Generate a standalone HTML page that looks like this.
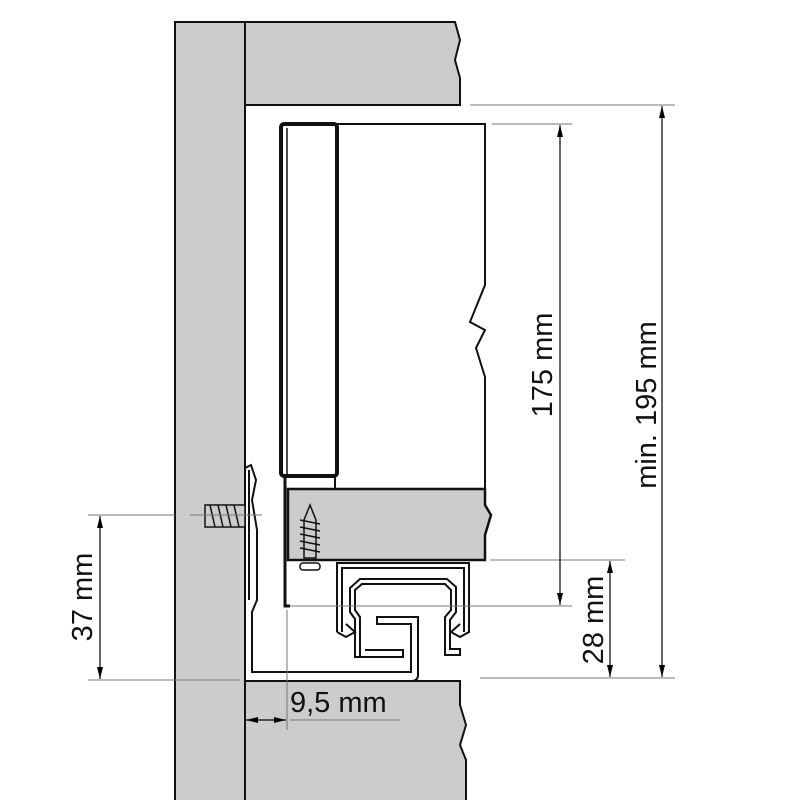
<!DOCTYPE html>
<html><head><style>body{margin:0;background:#fff}svg{display:block}</style></head><body>
<svg width="800" height="800" viewBox="0 0 800 800" xmlns="http://www.w3.org/2000/svg">
<defs>
<marker id="a" markerWidth="12" markerHeight="8" refX="12" refY="4" orient="auto-start-reverse" markerUnits="userSpaceOnUse"><path d="M0,1 L12,4 L0,7 Z" fill="#000"/></marker>
</defs>
<rect x="175" y="22" width="70" height="790" fill="#ccc" stroke="#111" stroke-width="2"/>
<path d="M245,22 L455,22 L460,40 L455,60 L460,78 L460,105 L245,105 Z" fill="#ccc" stroke="#111" stroke-width="2"/>
<path d="M245,681 L460,681 L460,705 L466,725 L460,745 L466,760 L466,810 L245,810 Z" fill="#ccc" stroke="#111" stroke-width="2"/>
<path d="M337,124 L485,124 L485,285 L470,322 L485,330 L476,348 L485,377 L485,490" fill="#fff" stroke="#111" stroke-width="2"/>
<rect x="281" y="124" width="56" height="352" rx="3" fill="#fff" stroke="#111" stroke-width="4"/>
<line x1="287" y1="128" x2="287" y2="475" stroke="#111" stroke-width="1.5"/>
<path d="M288,489 L485,489 L485,505 L491,515 L485,535 L485,560 L288,560 Z" fill="#ccc" stroke="#111" stroke-width="2.5"/>
<path d="M285,476 L335,476 L335,489" fill="none" stroke="#111" stroke-width="2"/>
<path d="M285,476 L285,606 L290,606" fill="none" stroke="#111" stroke-width="3"/>
<g stroke="#111" stroke-width="1.5" fill="none">
<path d="M310,505 L304,520 L304,558 L316,558 L316,520 Z" fill="#ccc"/>
<path d="M300,520 L320,524 M300,527 L320,531 M300,534 L320,538 M300,541 L320,545 M300,548 L320,552"/>
<rect x="300" y="563" width="20" height="7" rx="3" fill="#fff"/>
</g>
<!-- wall bracket -->
<g fill="none" stroke="#111" stroke-width="2">
<path d="M245,468 L251,465 L256,480 L252,500 L257,530 L257,600 L252,612 L252,672 L411,672 L411,624 L377,624 L377,617 L418,617 L418,675 Q418,681 411,681 L245,681 Z"/>
<path d="M249,470 L249,600"/>
</g>
<g stroke="#111" stroke-width="1.5" fill="#ccc">
<rect x="205" y="505" width="40" height="22"/>
<path d="M210,505 L215,527 M218,505 L223,527 M226,505 L231,527 M234,505 L239,527" fill="none"/>
</g>
<!-- runner profile -->
<g fill="none" stroke="#111" stroke-width="2">
<path d="M337,632 L337,563 L469,563 L469,632 L460,637 L451,632 L460,624"/>
<path d="M342,632 L342,568 L464,568 L464,632"/>
<path d="M337,632 L346,637 L355,632 L346,624"/>
<path d="M360,657 L360,617 L355,610 L355,590 L362,584 L445,584 L451,590 L451,610 L445,617 L445,655 L460,655 L460,649 L450,649 L450,620 L456,612 L456,587 L447,579 L360,579 L350,588 L350,612 L355,619 L355,657 Z"/>
<path d="M360,657 L403,657 L403,650 L365,650"/>
</g>
<g stroke="#777" stroke-width="1">
<line x1="470" y1="105" x2="675" y2="105"/>
<line x1="492" y1="124" x2="572" y2="124"/>
<line x1="490" y1="560" x2="625" y2="560"/>
<line x1="290" y1="606" x2="572" y2="606"/>
<line x1="480" y1="678" x2="675" y2="678"/>
<line x1="88" y1="515" x2="175" y2="515"/>
<line x1="190" y1="515" x2="262" y2="515"/>
<line x1="88" y1="680" x2="240" y2="680"/>
<line x1="287" y1="610" x2="287" y2="730"/>
<line x1="290" y1="720" x2="400" y2="720"/>
</g>
<g stroke="#000" stroke-width="1.2">
<line x1="662" y1="106" x2="662" y2="677" marker-start="url(#a)" marker-end="url(#a)"/>
<line x1="560" y1="125" x2="560" y2="605" marker-start="url(#a)" marker-end="url(#a)"/>
<line x1="610" y1="561" x2="610" y2="677" marker-start="url(#a)" marker-end="url(#a)"/>
<line x1="100" y1="516" x2="100" y2="679" marker-start="url(#a)" marker-end="url(#a)"/>
<line x1="246" y1="720" x2="286" y2="720" marker-start="url(#a)" marker-end="url(#a)"/>
</g>
<g font-family="Liberation Sans, sans-serif" font-size="29" fill="#111">
<text transform="translate(552,365) rotate(-90)" text-anchor="middle">175 mm</text>
<text transform="translate(656,405) rotate(-90)" text-anchor="middle">min. 195 mm</text>
<text transform="translate(603,620) rotate(-90)" text-anchor="middle">28 mm</text>
<text transform="translate(92,597) rotate(-90)" text-anchor="middle">37 mm</text>
<text x="290" y="712">9,5 mm</text>
</g>
</svg>
</body></html>
